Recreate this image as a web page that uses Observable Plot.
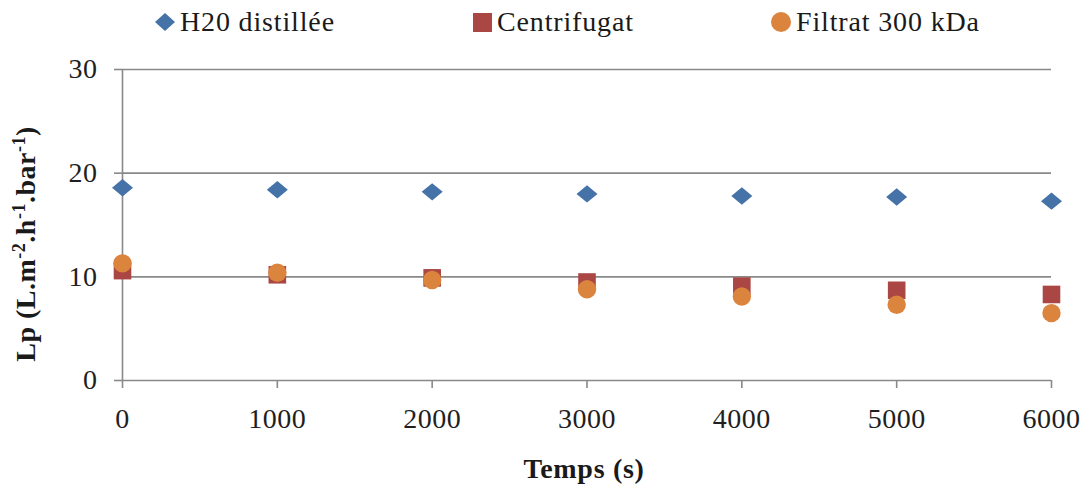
<!DOCTYPE html>
<html><head><meta charset="utf-8">
<script src="https://cdn.jsdelivr.net/npm/d3@7"></script>
<script src="https://cdn.jsdelivr.net/npm/@observablehq/plot@0.6"></script>
<style>
body{margin:0;background:#fff;}
#wrap{position:relative;width:1091px;height:490px;font-family:"Liberation Serif","Times New Roman",serif;}
.leg{position:absolute;top:6px;display:flex;align-items:center;font-size:28px;letter-spacing:0.85px;color:#1a1a1a;white-space:nowrap;}
.leg svg{margin-right:4px;}
</style></head><body><div id="wrap"></div>
<script>
// Data
const temps = [0, 1000, 2000, 3000, 4000, 5000, 6000];
const h2oDistillee = [18.6, 18.4, 18.2, 18.0, 17.8, 17.7, 17.3];
const centrifugat = [10.6, 10.2, 9.9, 9.5, 9.1, 8.7, 8.3];
const filtrat300 = [11.3, 10.4, 9.7, 8.8, 8.1, 7.3, 6.5];
const seriesNames = ["H20 distillée", "Centrifugat", "Filtrat 300 kDa"];
const yTicks = [0, 10, 20, 30];

const colors = ["#4572A7", "#AA4643", "#DB843D"];

const diamondWide = {draw(ctx){ const w = 10.5, h = 8.7; ctx.moveTo(0,-h); ctx.lineTo(w,0); ctx.lineTo(0,h); ctx.lineTo(-w,0); ctx.closePath(); }};
const squareFixed = {draw(ctx){ const s = 8.8; ctx.rect(-s,-s,2*s,2*s); }};
const circleFixed = {draw(ctx){ const r = 9.2; ctx.moveTo(r,0); ctx.arc(0,0,r,0,2*Math.PI); ctx.closePath(); }};

const rows = (vals) => temps.map((t, i) => ({t, v: vals[i]}));

const grey = "#898989";
const svg = Plot.plot({
  width: 1091,
  height: 490,
  marginLeft: 122,
  marginRight: 40,
  marginTop: 69,
  marginBottom: 110,
  style: {fontFamily: '"Liberation Serif","Times New Roman",serif', background: "#fff", letterSpacing: "0.5px"},
  x: {domain: [0, 6000]},
  y: {domain: [0, 30]},
  marks: [
    Plot.gridY(yTicks.filter(d => d > 0), {stroke: grey, strokeOpacity: 1, strokeWidth: 1.6}),
    Plot.ruleY([0], {stroke: grey, strokeWidth: 1.6}),
    Plot.ruleX([0], {stroke: grey, strokeWidth: 1.6}),
    Plot.axisY(yTicks, {tickSize: 8, tickPadding: 17, fontSize: 28, stroke: grey, strokeWidth: 1.6, fill: "#1f1f1f", label: null}),
    Plot.axisX(temps, {tickSize: 8, tickPadding: 20, fontSize: 28, stroke: grey, strokeWidth: 1.6, fill: "#1f1f1f", tickFormat: d => String(d), label: null}),
    Plot.dot(rows(h2oDistillee), {x: "t", y: "v", symbol: diamondWide, fill: colors[0], stroke: "none"}),
    Plot.dot(rows(centrifugat), {x: "t", y: "v", symbol: squareFixed, fill: colors[1], stroke: "none"}),
    Plot.dot(rows(filtrat300), {x: "t", y: "v", symbol: circleFixed, fill: colors[2], stroke: "none"})
  ]
});

const s = d3.select(svg);
// y-axis title with superscripts
const yt = s.append("text")
  .attr("transform", "translate(35,244) rotate(-90)")
  .attr("text-anchor", "middle")
  .attr("font-size", 28).attr("font-weight", "bold").attr("fill", "#1a1a1a");
const parts = [["Lp (L.m", false], ["-2", true], [".h", false], ["-1", true], [".bar", false], ["-1", true], [")", false]];
parts.forEach(([txt, sup]) => {
  const ts = yt.append("tspan").text(txt);
  if (sup) ts.attr("baseline-shift", "super").attr("font-size", 18);
});
// x-axis title
s.append("text").attr("x", 584).attr("y", 478).attr("text-anchor", "middle")
  .attr("font-size", 28).attr("font-weight", "bold").attr("letter-spacing", "0.7px").attr("fill", "#1a1a1a").text("Temps (s)");

const wrap = document.getElementById("wrap");
wrap.appendChild(svg);

// legend
const legLeft = [154, 471, 770];
const legSym = [
  '<svg width="22" height="22"><path d="M11,2 L21,11 L11,20 L1,11 Z" fill="' + colors[0] + '"/></svg>',
  '<svg width="22" height="22"><rect x="2" y="2" width="19" height="19" fill="' + colors[1] + '"/></svg>',
  '<svg width="22" height="22"><circle cx="11" cy="11" r="10" fill="' + colors[2] + '"/></svg>'
];
seriesNames.forEach((name, i) => {
  const d = document.createElement("div");
  d.className = "leg";
  d.style.left = legLeft[i] + "px";
  d.innerHTML = legSym[i] + "<span>" + name + "</span>";
  wrap.appendChild(d);
});
</script>
</body></html>
